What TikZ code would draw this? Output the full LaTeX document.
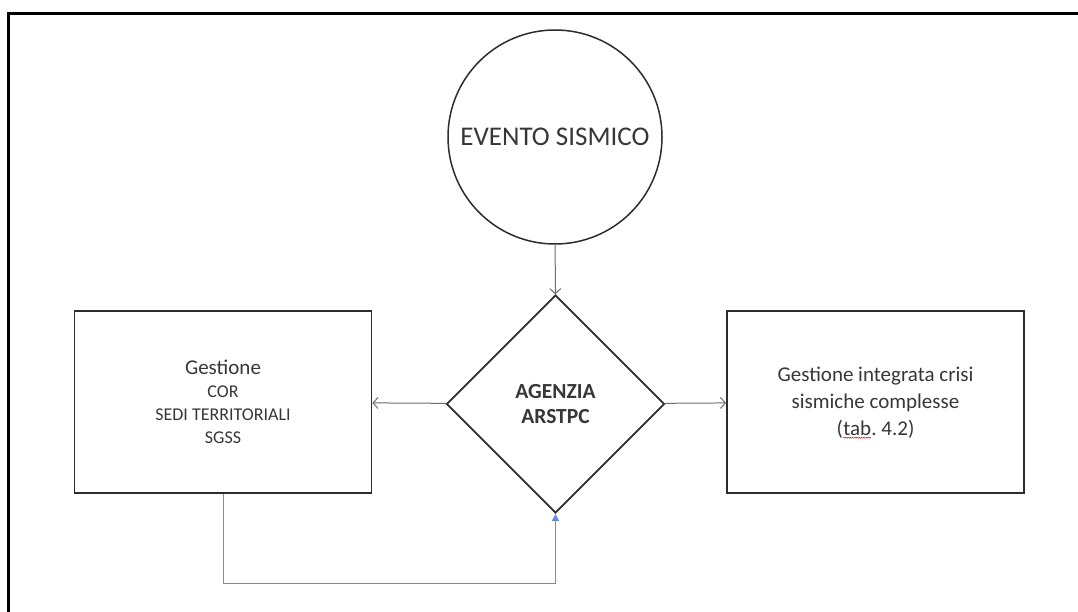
\documentclass[tikz,border=0pt]{standalone}
\usepackage{fontspec}
\setmainfont{Carlito}
\usetikzlibrary{shapes.geometric,arrows.meta,decorations.pathmorphing}
\definecolor{txt}{RGB}{55,55,55}
\definecolor{edge}{RGB}{45,45,45}
\definecolor{conn}{RGB}{110,110,110}
\definecolor{bluel}{RGB}{100,138,228}
\newcommand\spellmark[1]{\tikz[baseline=(w.base)]{\node[inner sep=0pt,outer sep=0pt,draw=none,minimum width=0pt,minimum height=0pt,text=txt](w){#1};\draw[red,line width=0.5pt,decorate,decoration={snake,amplitude=0.5pt,segment length=2.2pt}]([yshift=-2.2pt]w.base west)--([yshift=-2.2pt]w.base east);}}
\begin{document}
\begin{tikzpicture}[x=1pt,y=-1pt,
  boxnode/.style={draw=edge,line width=1.8pt,rectangle,minimum width=297pt,minimum height=182pt,align=center,text=txt,inner sep=0pt},
  conn/.style={draw=conn,line width=1pt,-{Straight Barb[length=5pt,width=11pt]}},
  feedback/.style={draw=bluel,line width=1pt,-{Triangle[length=7pt,width=7pt]}}]
\useasboundingbox (0,0) rectangle (1078,612);
\fill[white] (0,0) rectangle (1078,612);
\draw[black,line width=2.2pt] (8.5,612) -- (8.5,13.5) -- (1078,13.5);

\node[draw=edge,line width=1.5pt,circle,minimum size=214pt,inner sep=0pt,text=txt,font=\fontsize{27}{30}\selectfont] (ev) at (555,137) {EVENTO SISMICO};

\node[draw=edge,line width=1.8pt,diamond,aspect=1,minimum width=218pt,minimum height=218pt,inner sep=0pt,text=txt,align=center,font=\bfseries\fontsize{21.5}{25}\selectfont] (ag) at (555.5,404) {AGENZIA\\ARSTPC};

\node[boxnode,font=\fontsize{18}{23}\selectfont] (lb) at (223,402) {%
  {\fontsize{21}{23}\selectfont Gestione}\\
  COR\\
  SEDI TERRITORIALI\\
  SGSS};

\node[boxnode,font=\fontsize{21}{27}\selectfont] (rb) at (875.5,402) {\rule{0pt}{16pt}Gestione integrata crisi\\sismiche complesse\\(\spellmark{tab}.\ 4.2)};

\coordinate (bl) at (223,583);
\draw[conn] (ev) -- (ag);
\draw[conn] (ag) -- (lb);
\draw[conn] (ag) -- (rb);
\draw[feedback] (lb.south) -- (bl) -| (ag.south);
\end{tikzpicture}
\end{document}
